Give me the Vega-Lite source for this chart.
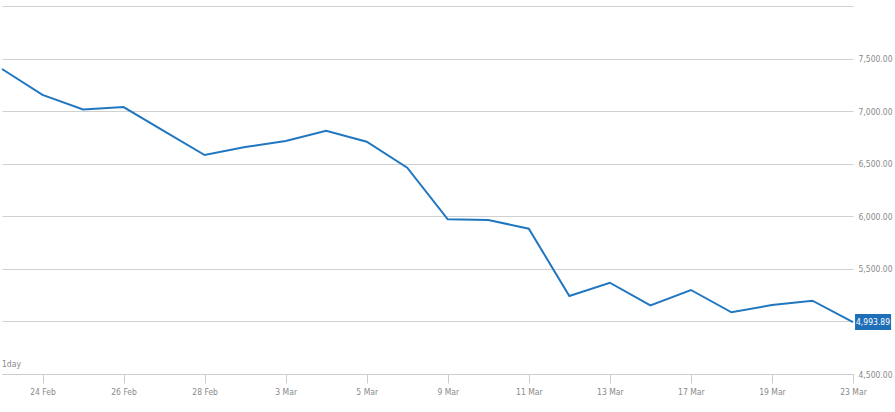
{
  "$schema": "https://vega.github.io/schema/vega-lite/v6.json",
  "width": 851,
  "height": 368,
  "autosize": {"type": "none"},
  "padding": {"left": 2, "top": 6, "right": 42, "bottom": 38},
  "background": "white",
  "config": {
    "view": {"stroke": null},
    "font": "DejaVu Sans Condensed"
  },
  "datasets": {
    "prices": [
      {"date": "21 Feb", "value": 7401},
      {"date": "24 Feb", "value": 7154},
      {"date": "25 Feb", "value": 7016},
      {"date": "26 Feb", "value": 7039},
      {"date": "27 Feb", "value": 6811},
      {"date": "28 Feb", "value": 6583},
      {"date": "2 Mar", "value": 6659},
      {"date": "3 Mar", "value": 6716},
      {"date": "4 Mar", "value": 6814},
      {"date": "5 Mar", "value": 6709},
      {"date": "6 Mar", "value": 6462},
      {"date": "9 Mar", "value": 5971},
      {"date": "10 Mar", "value": 5965},
      {"date": "11 Mar", "value": 5882},
      {"date": "12 Mar", "value": 5242},
      {"date": "13 Mar", "value": 5368},
      {"date": "16 Mar", "value": 5153},
      {"date": "17 Mar", "value": 5299},
      {"date": "18 Mar", "value": 5087},
      {"date": "19 Mar", "value": 5156},
      {"date": "20 Mar", "value": 5197},
      {"date": "23 Mar", "value": 4993.89}
    ],
    "last": [{"date": "23 Mar", "value": 4993.89, "label": "4,993.89"}],
    "note": [{"date": "21 Feb", "value": 4500, "label": "1day"}]
  },
  "encoding": {
    "x": {
      "field": "date",
      "type": "ordinal",
      "sort": null,
      "scale": {"type": "point", "padding": 0, "domain": ["21 Feb","24 Feb","25 Feb","26 Feb","27 Feb","28 Feb","2 Mar","3 Mar","4 Mar","5 Mar","6 Mar","9 Mar","10 Mar","11 Mar","12 Mar","13 Mar","16 Mar","17 Mar","18 Mar","19 Mar","20 Mar","23 Mar"]},
      "axis": {
        "title": null,
        "values": ["24 Feb","26 Feb","28 Feb","3 Mar","5 Mar","9 Mar","11 Mar","13 Mar","17 Mar","19 Mar","23 Mar"],
        "labelAngle": 0,
        "labelFontSize": 8.5,
        "labelColor": "#8a8a8a",
        "labelPadding": 4,
        "domainColor": "#cccccc",
        "tickColor": "#cccccc",
        "tickSize": 9,
        "grid": false
      }
    },
    "y": {
      "field": "value",
      "type": "quantitative",
      "scale": {"domain": [4500, 8000], "nice": false, "zero": false},
      "axis": {
        "title": null,
        "orient": "right",
        "values": [4500, 5000, 5500, 6000, 6500, 7000, 7500, 8000],
        "labelExpr": "(datum.value == 8000 || datum.value == 5000) ? '' : format(datum.value, ',.2f')",
        "labelFontSize": 8.5,
        "labelColor": "#8a8a8a",
        "labelPadding": 5,
        "domain": false,
        "ticks": false,
        "grid": true,
        "gridColor": "#d0d0d0",
        "gridWidth": 1
      }
    }
  },
  "layer": [
    {
      "data": {"name": "prices"},
      "mark": {"type": "line", "color": "#2077c0", "strokeWidth": 2}
    },
    {
      "data": {"name": "last"},
      "mark": {"type": "point", "shape": "M0.12,-0.47H2.24V0.47H0.12Z", "size": 1156, "filled": true, "color": "#1f6fb8", "opacity": 1}
    },
    {
      "data": {"name": "last"},
      "mark": {"type": "text", "align": "left", "baseline": "middle", "dx": 3, "fontSize": 8.5, "color": "white"},
      "encoding": {"text": {"field": "label"}}
    },
    {
      "data": {"name": "note"},
      "mark": {"type": "text", "align": "left", "baseline": "bottom", "dy": -5, "fontSize": 8.5, "color": "#8a8a8a"},
      "encoding": {"text": {"field": "label"}}
    }
  ]
}
